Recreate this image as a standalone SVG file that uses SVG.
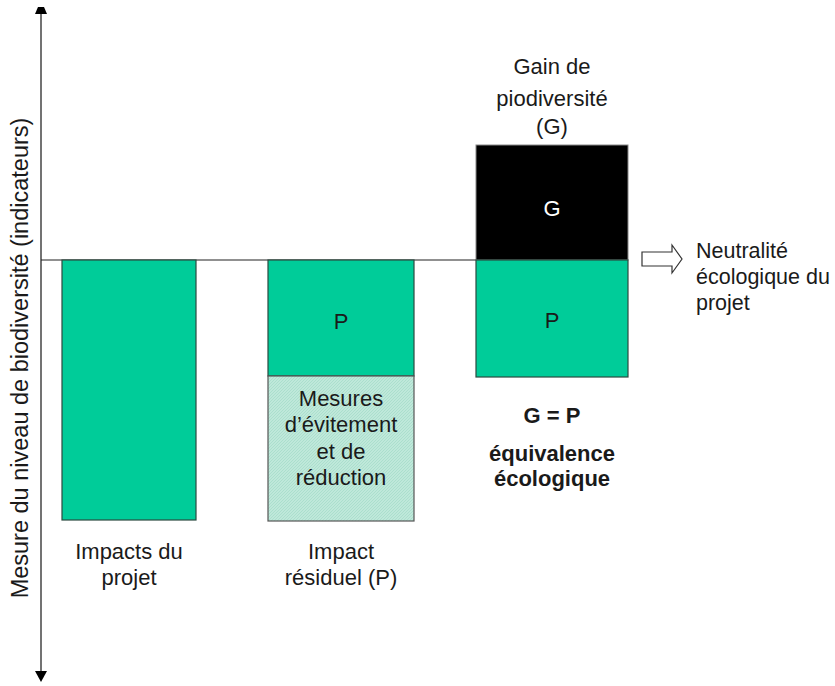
<svg xmlns="http://www.w3.org/2000/svg" width="835" height="686" viewBox="0 0 835 686">
<style>
text{font-family:"Liberation Sans",Arial,sans-serif;font-size:22px;fill:#1a1a1a;text-anchor:middle}
.b{font-weight:bold}
.s{text-anchor:start;font-size:21.5px}
.g{fill:#00CC99;stroke:#2b4a40;stroke-width:1.2}
.lt{fill:url(#hatch);stroke:#555;stroke-width:1.2}
.ax{stroke:#444;stroke-width:1.5;fill:none}
</style>
<defs>
<pattern id="hatch" width="3" height="3" patternUnits="userSpaceOnUse">
<rect width="3" height="3" fill="#bfe8da"/>
<path d="M0,3 L3,0" stroke="#a6ddca" stroke-width="0.8"/>
</pattern>
</defs>
<g id="connectors">
<line class="ax" x1="41" y1="8" x2="41" y2="680"/>
<path d="M35,14 L47,14 L44,7 L38,7 Z" fill="#000"/>
<path d="M35,671 L47,671 L41,682 Z" fill="#000"/>
<line x1="41" y1="260" x2="628" y2="260" stroke="#222" stroke-width="1.2"/>
<path d="M642,252 L672,252 L672,245 L682,259 L672,273 L672,266 L642,266 Z" fill="#fff" stroke="#333" stroke-width="1.2"/>
</g>
<g id="axis-label">
<text transform="translate(28,358) rotate(-90)" style="font-size:23.5px">Mesure du niveau de biodiversité (indicateurs)</text>
</g>
<g id="impacts">
<rect class="g" x="62" y="260" width="134" height="260"/>
<text x="129" y="559">Impacts du</text>
<text x="129" y="585">projet</text>
</g>
<g id="residuel">
<rect class="g" x="268" y="260" width="146" height="116"/>
<text x="341" y="329">P</text>
<rect class="lt" x="268" y="376" width="146" height="145"/>
<text x="341" y="406">Mesures</text>
<text x="341" y="432">d’évitement</text>
<text x="341" y="459">et de</text>
<text x="341" y="485">réduction</text>
<text x="341" y="559">Impact</text>
<text x="341" y="585">résiduel (P)</text>
</g>
<g id="compensation">
<rect x="476" y="145" width="152" height="115" fill="#000" stroke="#888" stroke-width="1"/>
<text x="552" y="216" style="fill:#fff">G</text>
<rect class="g" x="476" y="260" width="152" height="117"/>
<text x="552" y="328">P</text>
<text x="552" y="74">Gain de</text>
<text x="552" y="106">piodiversité</text>
<text x="552" y="134">(G)</text>
<text class="b" x="552" y="423">G = P</text>
<text class="b" x="552" y="461">équivalence</text>
<text class="b" x="552" y="486">écologique</text>
</g>
<g id="neutralite">
<text class="s" x="696" y="258">Neutralité</text>
<text class="s" x="696" y="284">écologique du</text>
<text class="s" x="696" y="310">projet</text>
</g>
</svg>
